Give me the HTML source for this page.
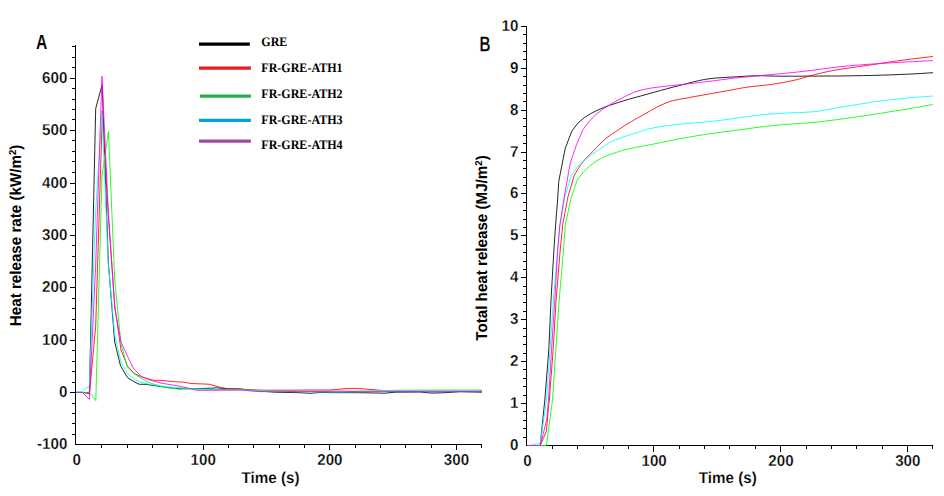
<!DOCTYPE html>
<html><head><meta charset="utf-8"><title>Figure</title>
<style>
html,body{margin:0;padding:0;background:#fff;}
body{width:944px;height:496px;overflow:hidden;font-family:"Liberation Sans",sans-serif;}
svg{display:block;}
.tk{font-family:"Liberation Sans",sans-serif;font-weight:bold;font-size:15.8px;text-rendering:geometricPrecision;fill:#000;stroke:#fff;stroke-width:0.28px;}
.ax{font-family:"Liberation Sans",sans-serif;font-weight:bold;font-size:15.8px;text-rendering:geometricPrecision;fill:#000;stroke:#fff;stroke-width:0.18px;}
.lg{font-family:"Liberation Serif",serif;font-weight:bold;font-size:13px;fill:#000;text-rendering:geometricPrecision;}
.pl{font-family:"Liberation Sans",sans-serif;font-weight:bold;font-size:19px;fill:#000;}
.c{fill:none;stroke-width:0.85;stroke-linejoin:round;stroke-linecap:butt;}
.a{stroke:#000;stroke-width:1;fill:none;shape-rendering:crispEdges;}
</style></head><body>
<svg width="944" height="496" viewBox="0 0 944 496">
<rect width="944" height="496" fill="#fff"/>

<path class="a" d="M75.5,45 V444.5 H482"/>
<path class="a" d="M75.5,434.50 h-3.5 M75.5,423.50 h-3.5 M75.5,413.50 h-3.5 M75.5,403.50 h-3.5 M75.5,392.50 h-5.5 M75.5,382.50 h-3.5 M75.5,371.50 h-3.5 M75.5,361.50 h-3.5 M75.5,350.50 h-3.5 M75.5,340.50 h-5.5 M75.5,329.50 h-3.5 M75.5,319.50 h-3.5 M75.5,308.50 h-3.5 M75.5,298.50 h-3.5 M75.5,287.50 h-5.5 M75.5,277.50 h-3.5 M75.5,266.50 h-3.5 M75.5,256.50 h-3.5 M75.5,245.50 h-3.5 M75.5,235.50 h-5.5 M75.5,224.50 h-3.5 M75.5,214.50 h-3.5 M75.5,203.50 h-3.5 M75.5,193.50 h-3.5 M75.5,183.50 h-5.5 M75.5,172.50 h-3.5 M75.5,161.50 h-3.5 M75.5,151.50 h-3.5 M75.5,140.50 h-3.5 M75.5,130.50 h-5.5 M75.5,119.50 h-3.5 M75.5,109.50 h-3.5 M75.5,99.50 h-3.5 M75.5,88.50 h-3.5 M75.5,78.50 h-5.5 M75.5,67.50 h-3.5 M75.5,57.50 h-3.5 M75.5,46.50 h-3.5"/>
<path class="a" d="M101.50,444.5 v3.5 M127.50,444.5 v3.5 M152.50,444.5 v3.5 M177.50,444.5 v3.5 M203.50,444.5 v5.5 M228.50,444.5 v3.5 M253.50,444.5 v3.5 M279.50,444.5 v3.5 M304.50,444.5 v3.5 M329.50,444.5 v5.5 M355.50,444.5 v3.5 M380.50,444.5 v3.5 M405.50,444.5 v3.5 M431.50,444.5 v3.5 M456.50,444.5 v5.5 M481.50,444.5 v3.5"/>
<text class="tk" transform="translate(67.4,449.0) scale(0.96,1)" text-anchor="end">-100</text>
<text class="tk" transform="translate(67.4,397.0) scale(0.96,1)" text-anchor="end">0</text>
<text class="tk" transform="translate(67.4,345.0) scale(0.96,1)" text-anchor="end">100</text>
<text class="tk" transform="translate(67.4,292.0) scale(0.96,1)" text-anchor="end">200</text>
<text class="tk" transform="translate(67.4,240.0) scale(0.96,1)" text-anchor="end">300</text>
<text class="tk" transform="translate(67.4,188.0) scale(0.96,1)" text-anchor="end">400</text>
<text class="tk" transform="translate(67.4,135.0) scale(0.96,1)" text-anchor="end">500</text>
<text class="tk" transform="translate(67.4,83.0) scale(0.96,1)" text-anchor="end">600</text>
<text class="tk" transform="translate(76.6,464.7) scale(0.96,1)" text-anchor="middle">0</text>
<text class="tk" transform="translate(203.2,464.7) scale(0.96,1)" text-anchor="middle">100</text>
<text class="tk" transform="translate(329.9,464.7) scale(0.96,1)" text-anchor="middle">200</text>
<text class="tk" transform="translate(456.5,464.7) scale(0.96,1)" text-anchor="middle">300</text>
<text class="ax" transform="translate(270.5,482.8) scale(0.96,1)" text-anchor="middle">Time (s)</text>
<text class="ax" style="stroke:none" transform="translate(21.0,235.4) rotate(-90) scale(0.96,1)" text-anchor="middle">Heat release rate (kW/m<tspan font-size="10" dy="-5.4">2</tspan><tspan dy="5.4">)</tspan></text>
<text class="pl" x="36.1" y="49" textLength="11.3" lengthAdjust="spacingAndGlyphs" style="font-size:20.5px;stroke:#fff;stroke-width:0.12px">A</text>
<path class="a" d="M526.5,26.5 V445.5 H933"/>
<path class="a" d="M526.5,437.50 h-3.5 M526.5,428.50 h-3.5 M526.5,420.50 h-3.5 M526.5,411.50 h-3.5 M526.5,403.50 h-5.5 M526.5,395.50 h-3.5 M526.5,386.50 h-3.5 M526.5,378.50 h-3.5 M526.5,369.50 h-3.5 M526.5,361.50 h-5.5 M526.5,353.50 h-3.5 M526.5,344.50 h-3.5 M526.5,336.50 h-3.5 M526.5,328.50 h-3.5 M526.5,319.50 h-5.5 M526.5,311.50 h-3.5 M526.5,302.50 h-3.5 M526.5,294.50 h-3.5 M526.5,286.50 h-3.5 M526.5,277.50 h-5.5 M526.5,269.50 h-3.5 M526.5,261.50 h-3.5 M526.5,252.50 h-3.5 M526.5,244.50 h-3.5 M526.5,235.50 h-5.5 M526.5,227.50 h-3.5 M526.5,219.50 h-3.5 M526.5,210.50 h-3.5 M526.5,202.50 h-3.5 M526.5,193.50 h-5.5 M526.5,185.50 h-3.5 M526.5,177.50 h-3.5 M526.5,168.50 h-3.5 M526.5,160.50 h-3.5 M526.5,152.50 h-5.5 M526.5,143.50 h-3.5 M526.5,135.50 h-3.5 M526.5,126.50 h-3.5 M526.5,118.50 h-3.5 M526.5,110.50 h-5.5 M526.5,101.50 h-3.5 M526.5,93.50 h-3.5 M526.5,85.50 h-3.5 M526.5,76.50 h-3.5 M526.5,68.50 h-5.5 M526.5,59.50 h-3.5 M526.5,51.50 h-3.5 M526.5,43.50 h-3.5 M526.5,34.50 h-3.5 M526.5,26.50 h-5.5"/>
<path class="a" d="M552.50,445.5 v3.5 M577.50,445.5 v3.5 M603.50,445.5 v3.5 M628.50,445.5 v3.5 M653.50,445.5 v6.5 M679.50,445.5 v3.5 M704.50,445.5 v3.5 M729.50,445.5 v3.5 M755.50,445.5 v3.5 M780.50,445.5 v6.5 M806.50,445.5 v3.5 M831.50,445.5 v3.5 M856.50,445.5 v3.5 M882.50,445.5 v3.5 M907.50,445.5 v6.5 M932.50,445.5 v3.5"/>
<text class="tk" transform="translate(518.4,450.0) scale(0.96,1)" text-anchor="end">0</text>
<text class="tk" transform="translate(518.4,408.0) scale(0.96,1)" text-anchor="end">1</text>
<text class="tk" transform="translate(518.4,366.0) scale(0.96,1)" text-anchor="end">2</text>
<text class="tk" transform="translate(518.4,324.0) scale(0.96,1)" text-anchor="end">3</text>
<text class="tk" transform="translate(518.4,282.0) scale(0.96,1)" text-anchor="end">4</text>
<text class="tk" transform="translate(518.4,240.0) scale(0.96,1)" text-anchor="end">5</text>
<text class="tk" transform="translate(518.4,198.0) scale(0.96,1)" text-anchor="end">6</text>
<text class="tk" transform="translate(518.4,157.0) scale(0.96,1)" text-anchor="end">7</text>
<text class="tk" transform="translate(518.4,115.0) scale(0.96,1)" text-anchor="end">8</text>
<text class="tk" transform="translate(518.4,73.0) scale(0.96,1)" text-anchor="end">9</text>
<text class="tk" transform="translate(518.4,31.0) scale(0.96,1)" text-anchor="end">10</text>
<text class="tk" transform="translate(527.4,466.3) scale(0.96,1)" text-anchor="middle">0</text>
<text class="tk" transform="translate(654.1,466.3) scale(0.96,1)" text-anchor="middle">100</text>
<text class="tk" transform="translate(781.0,466.3) scale(0.96,1)" text-anchor="middle">200</text>
<text class="tk" transform="translate(907.8,466.3) scale(0.96,1)" text-anchor="middle">300</text>
<text class="ax" transform="translate(727.8,482.5) scale(0.96,1)" text-anchor="middle">Time (s)</text>
<text class="ax" style="stroke:none" transform="translate(487.1,248.0) rotate(-90) scale(0.96,1)" text-anchor="middle">Total heat release (MJ/m<tspan font-size="10" dy="-5.4">2</tspan><tspan dy="5.4">)</tspan></text>
<text class="pl" x="479.6" y="50.9" textLength="10.9" lengthAdjust="spacingAndGlyphs" style="font-size:20px;font-weight:normal;stroke:#000;stroke-width:0.5px">B</text>
<polyline class="c" stroke="#000" points="76.0,392.5 82.5,392.5 89.4,392.5 95.7,108.5 102.2,84.5 108.3,262.0 114.7,342.0 120.5,365.8 127.5,377.6 133.8,381.5 139.0,384.2 146.7,384.4 154.0,385.5 162.0,386.7 170.0,387.8 178.5,388.6 196.3,388.6 211.5,388.2 216.6,387.8 225.0,388.6 240.0,389.0 260.0,391.2 275.0,392.2 300.0,392.7 310.0,393.3 320.0,392.5 340.0,392.7 360.0,392.7 385.0,393.2 395.0,392.2 420.0,392.0 432.0,393.1 445.0,392.7 460.0,391.7 482.0,392.2"/>
<polyline class="c" stroke="#f00" points="76.0,392.5 82.5,392.5 89.4,393.8 95.7,326.0 102.4,110.9 108.3,215.0 114.7,305.0 121.0,350.0 127.4,366.0 133.8,373.0 140.3,376.5 153.0,380.3 160.7,380.3 173.4,381.6 183.6,382.2 191.2,383.5 209.0,384.2 221.7,387.7 229.3,389.0 240.0,389.0 260.0,390.2 290.0,390.2 310.0,390.0 330.0,390.0 345.0,388.7 355.0,388.3 365.0,389.0 385.0,390.7 400.0,391.2 440.0,391.2 482.0,391.2"/>
<polyline class="c" stroke="#0f0" points="76.0,392.5 82.5,392.5 89.4,392.3 95.8,400.6 102.0,175.0 108.5,131.5 114.7,280.0 121.0,344.0 127.4,367.0 133.8,373.5 140.3,377.8 150.5,383.0 163.2,387.0 178.5,389.2 191.2,389.0 221.7,389.5 240.0,389.5 270.0,390.7 300.0,391.2 340.0,391.2 380.0,390.7 400.0,390.2 440.0,390.0 482.0,390.0"/>
<polyline class="c" stroke="#0ff" points="76.0,391.5 82.5,391.5 89.4,385.7 95.7,210.0 102.0,113.3 108.3,264.0 114.7,335.0 121.0,362.0 127.4,373.5 135.3,379.7 142.0,382.3 149.2,384.2 160.0,385.8 170.8,387.0 185.0,388.2 196.3,389.0 215.0,389.8 240.0,390.0 270.0,391.5 300.0,391.7 330.0,392.0 360.0,391.7 380.0,391.0 400.0,390.5 440.0,390.7 482.0,390.7"/>
<polyline class="c" stroke="#f0f" points="76.0,392.5 82.5,392.5 89.4,399.4 95.7,264.0 102.0,76.3 108.3,212.0 114.7,308.0 121.0,342.0 127.4,356.0 133.8,369.0 141.6,376.5 150.5,380.3 162.0,383.3 181.0,386.4 190.0,388.5 196.3,390.3 209.0,390.3 240.0,390.0 260.0,391.7 280.0,391.2 300.0,391.7 340.0,391.2 360.0,391.7 400.0,391.5 430.0,391.9 460.0,391.7 482.0,391.7"/>
<polyline class="c" stroke="#000" points="527.0,445.5 540.2,445.5 544.8,400.0 548.8,350.0 551.0,300.0 553.9,250.0 555.6,225.0 557.6,200.0 558.7,182.6 559.0,180.0 565.3,148.2 571.7,131.4 578.0,123.0 584.4,117.6 590.7,113.6 597.0,110.4 603.4,107.6 609.7,105.3 616.1,103.2 622.4,101.2 628.7,99.3 635.1,97.5 641.4,95.8 647.8,94.0 654.1,92.3 660.4,90.5 666.8,88.8 673.1,87.1 679.5,85.5 685.8,83.9 692.1,82.2 698.5,80.7 704.8,79.4 711.2,78.5 717.5,77.9 723.8,77.5 730.2,77.1 736.5,76.8 742.9,76.4 749.2,76.0 755.5,75.8 761.9,75.7 768.2,75.9 774.6,76.1 780.9,76.2 787.2,76.2 793.6,76.2 799.9,76.2 806.3,76.1 812.6,76.1 818.9,76.1 825.3,76.0 831.6,76.0 838.0,76.0 844.3,75.9 850.6,75.8 857.0,75.7 863.3,75.6 869.7,75.5 876.0,75.3 882.3,75.1 888.7,74.9 895.0,74.7 901.4,74.4 907.7,74.2 914.0,73.9 920.4,73.5 926.7,73.1 933.0,72.7"/>
<polyline class="c" stroke="#f00" points="527.0,445.5 540.2,445.5 546.4,431.3 548.7,405.0 549.3,400.0 553.1,350.0 556.1,300.0 560.2,250.0 562.7,225.0 567.3,200.0 568.0,196.5 574.3,175.1 580.7,164.7 587.0,157.1 593.4,150.9 599.7,144.1 606.0,138.3 612.4,133.8 618.7,129.6 625.1,125.4 631.4,121.5 637.7,117.9 644.1,114.4 650.4,110.7 656.8,107.2 663.1,104.2 669.4,101.6 675.8,100.0 682.1,98.8 688.5,97.7 694.8,96.5 701.1,95.4 707.5,94.3 713.8,93.2 720.2,92.0 726.5,90.9 732.8,89.7 739.2,88.5 745.5,87.4 751.9,86.5 758.2,85.9 764.5,85.3 770.9,84.5 777.2,83.5 783.6,82.4 789.9,81.2 796.2,79.8 802.6,78.1 808.9,76.2 815.3,74.5 821.6,73.0 827.9,71.5 834.3,70.3 840.6,69.2 847.0,68.3 853.3,67.4 859.6,66.5 866.0,65.6 872.3,64.6 878.7,63.7 885.0,62.7 891.3,61.7 897.7,60.8 904.0,60.0 910.4,59.2 916.7,58.4 923.0,57.6 929.4,56.9 933.0,56.5"/>
<polyline class="c" stroke="#0f0" points="527.0,445.5 546.4,445.5 552.5,400.0 555.8,350.0 559.2,300.0 563.5,250.0 565.3,225.0 570.6,200.0 571.0,198.3 577.3,179.9 583.7,171.8 590.0,165.7 596.4,161.0 602.7,157.4 609.0,154.8 615.4,152.7 621.7,150.7 628.1,149.1 634.4,147.6 640.7,146.4 647.1,145.3 653.4,144.1 659.8,142.8 666.1,141.5 672.4,140.2 678.8,138.9 685.1,137.8 691.5,136.7 697.8,135.6 704.1,134.6 710.5,133.7 716.8,132.8 723.2,131.9 729.5,131.1 735.8,130.3 742.2,129.5 748.5,128.6 754.9,127.7 761.2,126.9 767.5,126.2 773.9,125.5 780.2,124.9 786.6,124.4 792.9,123.9 799.2,123.5 805.6,123.0 811.9,122.5 818.3,121.9 824.6,121.2 830.9,120.4 837.3,119.6 843.6,118.7 850.0,117.9 856.3,117.0 862.6,116.0 869.0,115.1 875.3,114.1 881.7,113.1 888.0,112.1 894.3,111.1 900.7,110.1 907.0,109.0 913.4,107.9 919.7,106.9 926.0,105.7 932.4,104.6 933.0,104.5"/>
<polyline class="c" stroke="#0ff" points="527.0,445.5 533.0,444.8 540.2,443.4 546.5,400.0 550.0,350.0 553.4,300.0 557.6,250.0 559.9,225.0 564.3,200.0 565.0,196.3 571.3,175.4 577.7,166.6 584.0,160.6 590.4,155.6 596.7,151.2 603.0,146.7 609.4,142.6 615.7,139.7 622.1,137.4 628.4,135.3 634.7,133.4 641.1,131.3 647.4,129.2 653.8,127.8 660.1,126.7 666.4,125.8 672.8,125.0 679.1,124.3 685.5,123.6 691.8,123.1 698.1,122.6 704.5,122.1 710.8,121.5 717.2,120.8 723.5,119.9 729.8,119.1 736.2,118.2 742.5,117.3 748.9,116.4 755.2,115.6 761.5,114.8 767.9,114.3 774.2,113.8 780.6,113.4 786.9,113.0 793.2,112.7 799.6,112.5 805.9,112.2 812.3,111.8 818.6,111.2 824.9,110.2 831.3,109.0 837.6,107.7 844.0,106.6 850.3,105.6 856.6,104.6 863.0,103.6 869.3,102.6 875.7,101.7 882.0,100.9 888.3,100.1 894.7,99.4 901.0,98.7 907.4,98.1 913.7,97.5 920.0,97.0 926.4,96.5 932.7,96.0 933.0,96.0"/>
<polyline class="c" stroke="#f0f" points="527.0,445.5 540.2,445.5 546.7,420.0 548.5,400.0 551.5,350.0 554.8,300.0 557.7,250.0 559.9,225.0 563.8,200.0 564.0,198.3 570.3,162.8 576.7,144.1 583.0,129.6 589.4,121.0 595.7,114.8 602.0,109.8 608.4,105.5 614.7,101.9 621.1,98.6 627.4,95.3 633.7,92.4 640.1,90.3 646.4,88.9 652.8,87.8 659.1,87.0 665.4,86.3 671.8,85.6 678.1,84.9 684.5,84.2 690.8,83.5 697.1,82.8 703.5,82.1 709.8,81.3 716.2,80.5 722.5,79.6 728.8,78.8 735.2,78.0 741.5,77.4 747.9,76.8 754.2,76.2 760.5,75.6 766.9,75.0 773.2,74.4 779.6,73.8 785.9,73.2 792.2,72.6 798.6,71.9 804.9,71.2 811.3,70.5 817.6,69.6 823.9,68.7 830.3,67.9 836.6,67.1 843.0,66.4 849.3,65.8 855.6,65.2 862.0,64.8 868.3,64.3 874.7,63.9 881.0,63.5 887.3,63.1 893.7,62.7 900.0,62.3 906.4,61.9 912.7,61.6 919.0,61.3 925.4,60.9 931.7,60.7 933.0,60.6"/>
<line x1="199" x2="249.8" y1="44.2" y2="44.2" stroke="#000" stroke-width="3.3"/>
<text class="lg" transform="translate(261.3,46.0) scale(0.925,1)">GRE</text>
<line x1="199" x2="250.9" y1="68.2" y2="68.2" stroke="#ED1C24" stroke-width="3.3"/>
<text class="lg" transform="translate(261.3,72.0) scale(0.925,1)">FR-GRE-ATH1</text>
<line x1="200" x2="250.9" y1="96.2" y2="96.2" stroke="#22B14C" stroke-width="3.3"/>
<text class="lg" transform="translate(261.3,98.2) scale(0.925,1)">FR-GRE-ATH2</text>
<line x1="199" x2="250.9" y1="120.3" y2="120.3" stroke="#00A2E8" stroke-width="3.3"/>
<text class="lg" transform="translate(261.3,124.0) scale(0.925,1)">FR-GRE-ATH3</text>
<line x1="199" x2="250.9" y1="141.2" y2="141.2" stroke="#A349A4" stroke-width="3.3"/>
<text class="lg" transform="translate(261.3,148.8) scale(0.925,1)">FR-GRE-ATH4</text>
</svg></body></html>
